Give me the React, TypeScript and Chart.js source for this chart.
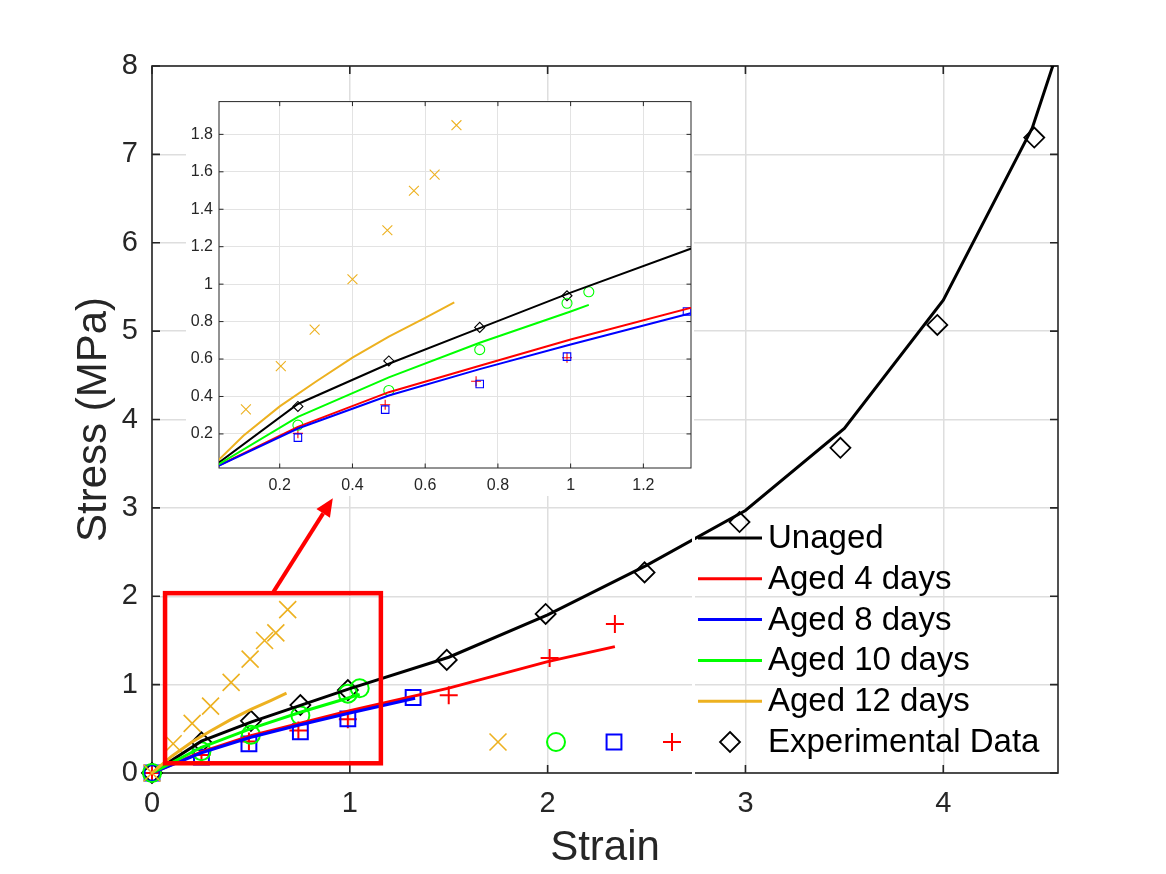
import React, { useEffect, useRef } from 'react';
import { Chart, registerables } from 'chart.js';

Chart.register(...registerables);

const FONT = '"Liberation Sans", Arial, Helvetica, sans-serif';

// ---- Model curves ----
const unagedStrain = [0, 0.25, 0.5, 0.75, 1.0, 1.5, 2.0, 2.5, 3.0, 3.5, 4.0, 4.45, 4.62];
const unagedStress = [0, 0.36, 0.575, 0.765, 0.955, 1.31, 1.79, 2.35, 2.97, 3.9, 5.35, 7.3, 8.45];
const aged4Strain = [0, 0.25, 0.5, 0.75, 1.0, 1.5, 2.0, 2.34];
const aged4Stress = [0, 0.238, 0.423, 0.564, 0.704, 0.96, 1.26, 1.43];
const aged8Strain = [0, 0.25, 0.5, 0.75, 1.0, 1.33];
const aged8Stress = [0, 0.229, 0.405, 0.546, 0.678, 0.845];
const aged10Strain = [0, 0.25, 0.5, 0.75, 1.0, 1.05];
const aged10Stress = [0, 0.291, 0.502, 0.687, 0.854, 0.889];
const aged12Strain = [0, 0.1, 0.2, 0.3, 0.4, 0.5, 0.6, 0.68];
const aged12Stress = [0, 0.19, 0.347, 0.48, 0.607, 0.72, 0.82, 0.903];

// ---- Experimental data ----
const expUnagedStrain = [0, 0.25, 0.5, 0.75, 0.99, 1.49, 1.99, 2.49, 2.97, 3.48, 3.97, 4.46];
const expUnagedStress = [0, 0.347, 0.59, 0.769, 0.938, 1.28, 1.8, 2.27, 2.84, 3.68, 5.07, 7.19];
const exp4Strain = [0, 0.25, 0.49, 0.74, 0.99, 1.5, 2.01, 2.34];
const exp4Stress = [0, 0.203, 0.356, 0.481, 0.607, 0.88, 1.3, 1.685];
const exp8Strain = [0, 0.25, 0.49, 0.75, 0.99, 1.32];
const exp8Stress = [0, 0.18, 0.33, 0.467, 0.613, 0.854];
const exp10Strain = [0, 0.25, 0.5, 0.75, 0.99, 1.05];
const exp10Stress = [0, 0.247, 0.432, 0.65, 0.898, 0.959];
const exp12Strain = [0, 0.107, 0.203, 0.296, 0.4, 0.496, 0.569, 0.626, 0.686];
const exp12Stress = [0, 0.331, 0.562, 0.757, 1.026, 1.288, 1.499, 1.585, 1.849];

// ---- Ticks ----
const mainStrainTicks = [0, 1, 2, 3, 4];
const mainStressTicks = [0, 1, 2, 3, 4, 5, 6, 7, 8];
const insetStrainTicks = [0.2, 0.4, 0.6, 0.8, 1, 1.2];
const insetStressTicks = [0.2, 0.4, 0.6, 0.8, 1, 1.2, 1.4, 1.6, 1.8];

// ---- Annotations (data units) ----
const zoomBoxStrain = [0.066, 1.157];
const zoomBoxStress = [0.11, 2.035];
const arrowStrain = [0.614, 0.914];
const arrowStress = [2.05, 3.11];

const legendLabels = ['Unaged', 'Aged 4 days', 'Aged 8 days', 'Aged 10 days', 'Aged 12 days'];
const expLabel = 'Experimental Data';

const BLACK = '#000000';
const RED = '#ff0000';
const BLUE = '#0000ff';
const GREEN = '#00ff00';
const ORANGE = '#edb120';

const lineSeries = [
  { x: unagedStrain, y: unagedStress, color: BLACK },
  { x: aged4Strain, y: aged4Stress, color: RED },
  { x: aged8Strain, y: aged8Stress, color: BLUE },
  { x: aged10Strain, y: aged10Stress, color: GREEN },
  { x: aged12Strain, y: aged12Stress, color: ORANGE },
];

const markerSeries = [
  { x: exp12Strain, y: exp12Stress, color: ORANGE, style: 'crossRot', r: 12, ri: 7, lw: 1.6 },
  { x: exp10Strain, y: exp10Stress, color: GREEN, style: 'circle', r: 9, ri: 5, lw: 2 },
  { x: exp8Strain, y: exp8Stress, color: BLUE, style: 'rect', r: 10.5, ri: 5.3, lw: 2 },
  { x: exp4Strain, y: exp4Stress, color: RED, style: 'cross', r: 9, ri: 5, lw: 2 },
  { x: expUnagedStrain, y: expUnagedStress, color: BLACK, style: 'rectRot', r: 10, ri: 5, lw: 1.8 },
];

const pts = (xs: number[], ys: number[]) => xs.map((v, i) => ({ x: v, y: ys[i] }));

function buildDatasets(inset: boolean): any[] {
  const ds: any[] = [];
  markerSeries.forEach((m, i) => {
    ds.push({
      data: pts(m.x, m.y),
      showLine: false,
      pointStyle: m.style,
      pointRadius: inset ? m.ri : m.r,
      pointHoverRadius: inset ? m.ri : m.r,
      pointBorderColor: m.color,
      pointBackgroundColor: 'rgba(0,0,0,0)',
      pointBorderWidth: inset ? 1.1 : m.lw,
      clip: inset ? undefined : false,
      order: 10 + i,
    });
  });
  lineSeries.forEach((l, i) => {
    ds.push({
      data: pts(l.x, l.y),
      showLine: true,
      pointRadius: 0,
      pointHoverRadius: 0,
      borderColor: l.color,
      borderWidth: inset ? 2 : 3,
      fill: false,
      tension: 0,
      order: 5 - i,
    });
  });
  return ds;
}

function drawMarker(ctx: CanvasRenderingContext2D, style: string, x: number, y: number, r: number, color: string, lw: number) {
  ctx.save();
  ctx.strokeStyle = color;
  ctx.lineWidth = lw;
  ctx.beginPath();
  if (style === 'crossRot') {
    const d = r * Math.SQRT1_2;
    ctx.moveTo(x - d, y - d); ctx.lineTo(x + d, y + d);
    ctx.moveTo(x - d, y + d); ctx.lineTo(x + d, y - d);
  } else if (style === 'cross') {
    ctx.moveTo(x - r, y); ctx.lineTo(x + r, y);
    ctx.moveTo(x, y - r); ctx.lineTo(x, y + r);
  } else if (style === 'circle') {
    ctx.arc(x, y, r, 0, Math.PI * 2);
  } else if (style === 'rect') {
    const s = r * Math.SQRT1_2;
    ctx.rect(x - s, y - s, 2 * s, 2 * s);
  } else {
    ctx.moveTo(x, y - r); ctx.lineTo(x + r, y); ctx.lineTo(x, y + r); ctx.lineTo(x - r, y); ctx.closePath();
  }
  ctx.stroke();
  ctx.restore();
}

function drawFrame(chart: any, tickLen: number, lw: number) {
  const { ctx, chartArea: a, scales } = chart;
  ctx.save();
  ctx.strokeStyle = '#262626';
  ctx.lineWidth = lw;
  ctx.beginPath();
  for (const t of scales.x.ticks) {
    const px = scales.x.getPixelForValue(t.value);
    ctx.moveTo(px, a.bottom); ctx.lineTo(px, a.bottom - tickLen);
    ctx.moveTo(px, a.top); ctx.lineTo(px, a.top + tickLen);
  }
  for (const t of scales.y.ticks) {
    const py = scales.y.getPixelForValue(t.value);
    ctx.moveTo(a.left, py); ctx.lineTo(a.left + tickLen, py);
    ctx.moveTo(a.right, py); ctx.lineTo(a.right - tickLen, py);
  }
  ctx.stroke();
  ctx.strokeRect(a.left, a.top, a.right - a.left, a.bottom - a.top);
  ctx.restore();
}

const mainFramePlugin = {
  id: 'mainFrame',
  beforeDatasetsDraw(chart: any) { drawFrame(chart, 8, 1.6); },
  afterDatasetsDraw(chart: any) {
    const { ctx, scales } = chart;
    const xs = scales.x, ys = scales.y;
    ctx.save();
    ctx.strokeStyle = RED;
    ctx.fillStyle = RED;
    // zoom box
    ctx.lineWidth = 4.5;
    const bx0 = xs.getPixelForValue(zoomBoxStrain[0]);
    const bx1 = xs.getPixelForValue(zoomBoxStrain[1]);
    const by0 = ys.getPixelForValue(zoomBoxStress[1]);
    const by1 = ys.getPixelForValue(zoomBoxStress[0]);
    ctx.strokeRect(bx0, by0, bx1 - bx0, by1 - by0);
    // arrow
    const ax0 = xs.getPixelForValue(arrowStrain[0]);
    const ay0 = ys.getPixelForValue(arrowStress[0]);
    const ax1 = xs.getPixelForValue(arrowStrain[1]);
    const ay1 = ys.getPixelForValue(arrowStress[1]);
    const ang = Math.atan2(ay1 - ay0, ax1 - ax0);
    const hl = 18, hw = 8;
    const bxh = ax1 - hl * Math.cos(ang), byh = ay1 - hl * Math.sin(ang);
    ctx.lineWidth = 4;
    ctx.beginPath(); ctx.moveTo(ax0, ay0); ctx.lineTo(bxh, byh); ctx.stroke();
    ctx.beginPath();
    ctx.moveTo(ax1, ay1);
    ctx.lineTo(bxh + hw * Math.sin(ang), byh - hw * Math.cos(ang));
    ctx.lineTo(bxh - hw * Math.sin(ang), byh + hw * Math.cos(ang));
    ctx.closePath(); ctx.fill();
    ctx.restore();
  },
  afterDraw(chart: any) {
    const { ctx, chartArea: a } = chart;
    ctx.save();
    // thin white strip artifact left of legend
    ctx.fillStyle = '#ffffff';
    ctx.fillRect(a.right - 366, a.bottom - 258, 3, 262);
    const lineX0 = a.right - 360;
    const lineX1 = a.right - 296;
    const textX = a.right - 290;
    const row0 = a.bottom - 235;
    const step = 40.8;
    ctx.font = `33px ${FONT}`;
    ctx.textBaseline = 'middle';
    ctx.textAlign = 'left';
    lineSeries.forEach((l, i) => {
      const y = row0 + i * step;
      ctx.strokeStyle = l.color;
      ctx.lineWidth = 3;
      ctx.beginPath(); ctx.moveTo(lineX0, y); ctx.lineTo(lineX1, y); ctx.stroke();
      ctx.fillStyle = '#000';
      ctx.fillText(legendLabels[i], textX, y + 1);
    });
    const ey = row0 + 5 * step;
    const cx = (lineX0 + lineX1) / 2;
    const offs = [-232, -174, -116, -58, 0];
    markerSeries.forEach((m, i) => drawMarker(ctx, m.style, cx + offs[i], ey, m.r, m.color, m.lw));
    ctx.fillStyle = '#000';
    ctx.fillText(expLabel, textX, ey + 1);
    ctx.restore();
  },
};

const insetPlugin = {
  id: 'insetFrame',
  beforeDraw(chart: any) {
    const { ctx, chartArea: a, width, height } = chart;
    ctx.save();
    ctx.fillStyle = '#ffffff';
    ctx.fillRect(0, a.top - 1, width, height);
    ctx.restore();
  },
  beforeDatasetsDraw(chart: any) { drawFrame(chart, 4.5, 1); },
};

function tickFromList(list: number[]) {
  return (s: any) => { s.ticks = list.map((v) => ({ value: v })); };
}

export default function App() {
  const mainRef = useRef<HTMLCanvasElement>(null);
  const insetRef = useRef<HTMLCanvasElement>(null);

  useEffect(() => {
    document.body.style.margin = '0';
    const main = new Chart(mainRef.current as HTMLCanvasElement, {
      type: 'scatter',
      data: { datasets: buildDatasets(false) },
      options: {
        responsive: false,
        animation: false,
        layout: { autoPadding: false, padding: { left: 0, right: 108, top: 66, bottom: 0 } },
        plugins: { legend: { display: false }, tooltip: { enabled: false } },
        scales: {
          x: {
            type: 'linear', min: 0, max: 4.58,
            afterFit: (s: any) => { s.height = 101; },
            afterBuildTicks: tickFromList(mainStrainTicks),
            grid: { color: '#dedede', lineWidth: 1.5, drawTicks: false },
            border: { display: false },
            ticks: { padding: 14, color: '#262626', font: { family: FONT, size: 29 }, maxRotation: 0, autoSkip: false, callback: (v: any) => String(v) },
            title: { display: true, text: 'Strain', color: '#262626', font: { family: FONT, size: 42 }, padding: { top: 0, bottom: 0 } },
          },
          y: {
            type: 'linear', min: 0, max: 8,
            afterFit: (s: any) => { s.width = 152; },
            afterBuildTicks: tickFromList(mainStressTicks),
            grid: { color: '#dedede', lineWidth: 1.5, drawTicks: false },
            border: { display: false },
            ticks: { padding: 14, color: '#262626', font: { family: FONT, size: 29 }, autoSkip: false, callback: (v: any) => String(v) },
            title: { display: true, text: 'Stress (MPa)', color: '#262626', font: { family: FONT, size: 42 }, padding: { top: 69, bottom: 0 } },
          },
        },
      } as any,
      plugins: [mainFramePlugin],
    });

    const inset = new Chart(insetRef.current as HTMLCanvasElement, {
      type: 'scatter',
      data: { datasets: buildDatasets(true) },
      options: {
        responsive: false,
        animation: false,
        layout: { autoPadding: false, padding: { left: 0, right: 3, top: 12, bottom: 0 } },
        plugins: { legend: { display: false }, tooltip: { enabled: false } },
        scales: {
          x: {
            type: 'linear', min: 0.033, max: 1.331,
            afterFit: (s: any) => { s.height = 28; },
            afterBuildTicks: tickFromList(insetStrainTicks),
            grid: { color: '#e3e3e3', lineWidth: 1, drawTicks: false },
            border: { display: false },
            ticks: { padding: 8, color: '#262626', font: { family: FONT, size: 16 }, maxRotation: 0, autoSkip: false, callback: (v: any) => String(v) },
          },
          y: {
            type: 'linear', min: 0.018, max: 1.975,
            afterFit: (s: any) => { s.width = 33; },
            afterBuildTicks: tickFromList(insetStressTicks),
            grid: { color: '#e3e3e3', lineWidth: 1, drawTicks: false },
            border: { display: false },
            ticks: { padding: 6, color: '#262626', font: { family: FONT, size: 16 }, autoSkip: false, callback: (v: any) => String(v) },
          },
        },
      } as any,
      plugins: [insetPlugin],
    });

    return () => { main.destroy(); inset.destroy(); };
  }, []);

  return (
    <div style={{ position: 'relative', width: 1166, height: 874, background: '#ffffff', overflow: 'hidden' }}>
      <canvas ref={mainRef} width={1166} height={874} style={{ position: 'absolute', left: 0, top: 0, width: 1166, height: 874 }} />
      <canvas ref={insetRef} width={508} height={410} style={{ position: 'absolute', left: 186, top: 86, width: 508, height: 410 }} />
    </div>
  );
}
